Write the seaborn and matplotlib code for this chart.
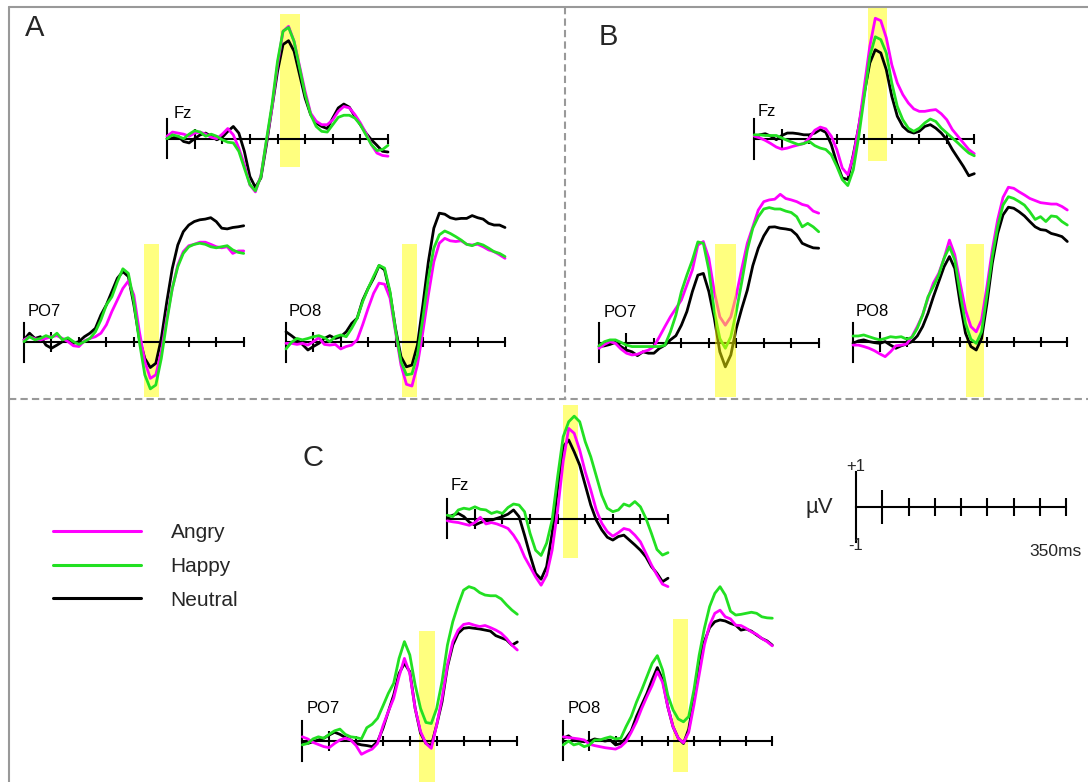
import numpy as np
import pandas as pd
import matplotlib
matplotlib.use("Agg")
import matplotlib.pyplot as plt
from matplotlib.lines import Line2D
import seaborn as sns

# ---------------- data (µV, sampled every 10 ms from -50 to 350 ms) ----------------
times = np.arange(-50, 351, 10)
conditions = ["Angry", "Happy", "Neutral"]

A_Fz_angry = [0.07, 0.19, 0.16, 0.13, 0.07, 0.16, 0.19, 0.13, 0.04, 0.00, 0.13, 0.29, 0.11, -0.27, -0.74,
              -1.32, -1.52, -1.05, -0.08, 0.88, 2.11, 3.07, 3.21, 2.78, 2.07, 1.35, 0.73, 0.50, 0.40, 0.40,
              0.54, 0.78, 0.92, 0.88, 0.69, 0.45, 0.16, -0.17, -0.41, -0.48, -0.50]
A_Fz_happy = [0.00, 0.11, 0.07, 0.00, 0.13, 0.23, 0.19, 0.07, 0.13, 0.07, -0.03, -0.10, -0.12, -0.36, -0.84,
              -1.31, -1.49, -1.08, -0.03, 0.97, 2.21, 3.07, 3.18, 2.78, 2.02, 1.26, 0.69, 0.35, 0.21, 0.19,
              0.40, 0.61, 0.67, 0.67, 0.59, 0.40, 0.11, -0.17, -0.34, -0.31, -0.19]
A_Fz_neutral = [0.00, 0.02, 0.07, -0.08, -0.12, 0.00, 0.11, 0.16, 0.07, -0.03, 0.04, 0.21, 0.35, 0.16, -0.36,
                -1.08, -1.39, -1.12, -0.17, 0.88, 1.92, 2.69, 2.80, 2.50, 1.83, 1.16, 0.69, 0.45, 0.35, 0.29,
                0.59, 0.88, 0.99, 0.90, 0.64, 0.40, 0.16, -0.03, -0.19, -0.36, -0.38]

A_PO7_angry = [0.07, 0.16, 0.10, 0.07, 0.11, 0.16, 0.19, 0.11, 0.02, -0.10, -0.12, 0.04, 0.11, 0.16, 0.26,
               0.50, 0.88, 1.21, 1.54, 1.75, 1.35, 0.31, -0.55, -1.03, -0.93, -0.27, 0.69, 1.54, 2.21, 2.59,
               2.76, 2.80, 2.86, 2.86, 2.80, 2.73, 2.70, 2.73, 2.54, 2.61, 2.61]
A_PO7_happy = [0.02, 0.16, 0.07, 0.11, 0.19, 0.13, 0.26, 0.07, 0.13, 0.02, -0.06, 0.02, 0.11, 0.30, 0.64,
               1.07, 1.30, 1.73, 2.10, 1.97, 1.16, 0.02, -0.93, -1.33, -1.22, -0.46, 0.59, 1.54, 2.16, 2.54,
               2.73, 2.80, 2.83, 2.80, 2.73, 2.70, 2.73, 2.76, 2.64, 2.57, 2.54]
A_PO7_neutral = [0.07, 0.26, 0.11, 0.16, -0.08, -0.17, -0.08, 0.02, 0.07, -0.03, 0.02, 0.16, 0.26, 0.40, 0.78,
                 1.07, 1.45, 1.83, 2.02, 1.88, 1.07, 0.11, -0.46, -0.72, -0.60, 0.11, 1.16, 2.11, 2.78, 3.16,
                 3.35, 3.45, 3.50, 3.52, 3.56, 3.45, 3.26, 3.24, 3.28, 3.30, 3.33]

A_PO8_angry = [-0.03, -0.03, -0.06, -0.03, -0.08, 0.02, 0.13, -0.06, -0.08, -0.06, -0.19, -0.12, -0.08, 0.07, 0.50,
               0.97, 1.40, 1.69, 1.66, 1.26, 0.30, -0.65, -1.20, -1.25, -0.65, 0.30, 1.35, 2.30, 2.83, 2.97,
               2.90, 2.88, 2.90, 2.80, 2.78, 2.80, 2.73, 2.64, 2.59, 2.50, 2.40]
A_PO8_happy = [-0.19, 0.00, 0.11, 0.07, 0.11, 0.16, 0.19, 0.13, 0.02, 0.16, 0.21, 0.16, 0.40, 0.69, 1.16,
               1.54, 1.88, 2.20, 2.12, 1.45, 0.35, -0.55, -0.93, -0.90, -0.36, 0.69, 1.83, 2.69, 3.07, 3.18,
               3.11, 3.02, 2.92, 2.80, 2.76, 2.83, 2.78, 2.69, 2.59, 2.54, 2.45]
A_PO8_neutral = [0.30, 0.19, 0.07, -0.06, -0.22, -0.12, -0.03, 0.11, 0.19, 0.11, 0.16, 0.30, 0.54, 0.69, 1.20,
                 1.54, 1.83, 2.19, 2.07, 1.40, 0.40, -0.41, -0.70, -0.65, -0.08, 1.07, 2.30, 3.26, 3.69, 3.66,
                 3.56, 3.52, 3.54, 3.54, 3.62, 3.56, 3.52, 3.40, 3.35, 3.35, 3.28]

B_Fz_angry = [0.08, 0.03, -0.04, -0.13, -0.23, -0.29, -0.26, -0.21, -0.17, -0.13, 0.03, 0.25, 0.34, 0.29, 0.08,
              -0.30, -0.83, -1.02, -0.50, 0.36, 1.50, 2.65, 3.45, 3.38, 2.89, 2.12, 1.60, 1.27, 1.03, 0.86,
              0.79, 0.79, 0.82, 0.84, 0.72, 0.55, 0.27, 0.08, -0.11, -0.30, -0.42]
B_Fz_happy = [0.12, 0.12, 0.10, 0.10, 0.10, 0.03, -0.04, -0.10, -0.16, -0.13, -0.07, -0.19, -0.26, -0.30, -0.45,
              -0.78, -1.16, -1.33, -0.88, 0.08, 1.22, 2.36, 2.92, 2.84, 2.46, 1.60, 0.93, 0.55, 0.31, 0.22,
              0.31, 0.46, 0.57, 0.50, 0.31, 0.17, 0.03, -0.11, -0.26, -0.40, -0.48]
B_Fz_neutral = [0.03, 0.12, 0.15, 0.08, -0.02, 0.10, 0.17, 0.17, 0.15, 0.12, 0.12, 0.17, 0.27, 0.19, -0.16,
                -0.69, -1.11, -1.16, -0.45, 0.36, 1.31, 2.17, 2.55, 2.46, 1.98, 1.22, 0.65, 0.36, 0.22, 0.17,
                0.22, 0.36, 0.41, 0.31, 0.17, -0.02, -0.30, -0.54, -0.78, -1.05, -0.99]

B_PO7_angry = [-0.16, -0.05, 0.03, -0.02, -0.18, -0.30, -0.35, -0.33, -0.26, -0.21, -0.11, 0.17, 0.46, 0.74, 0.98,
               1.22, 1.65, 2.08, 2.79, 2.89, 2.41, 1.45, 0.74, 0.50, 0.74, 1.36, 2.12, 2.84, 3.31, 3.79,
               4.03, 4.08, 4.10, 4.24, 4.12, 4.08, 4.03, 3.95, 3.91, 3.76, 3.70]
B_PO7_happy = [-0.09, 0.03, 0.08, 0.08, 0.01, -0.07, -0.11, -0.11, -0.11, -0.11, -0.11, -0.11, -0.07, 0.31, 0.79,
               1.46, 1.93, 2.36, 2.88, 2.84, 2.08, 0.89, 0.12, -0.16, 0.17, 0.89, 1.74, 2.65, 3.27, 3.60,
               3.82, 3.86, 3.82, 3.82, 3.76, 3.72, 3.60, 3.31, 3.41, 3.31, 3.17]
B_PO7_neutral = [-0.11, -0.09, -0.05, 0.01, -0.11, -0.21, -0.26, -0.37, -0.26, -0.30, -0.30, -0.16, -0.07, 0.08, 0.20,
                 0.50, 0.89, 1.46, 1.93, 1.98, 1.46, 0.70, -0.26, -0.69, -0.35, 0.41, 0.98, 1.50, 2.20, 2.70,
                 3.05, 3.30, 3.31, 3.27, 3.25, 3.22, 3.08, 2.84, 2.77, 2.71, 2.70]

B_PO8_angry = [-0.08, -0.08, -0.12, -0.17, -0.24, -0.33, -0.41, -0.27, -0.10, -0.08, -0.05, 0.16, 0.45, 0.78, 1.26,
               1.69, 1.97, 2.40, 2.92, 2.50, 1.69, 0.92, 0.45, 0.30, 0.64, 1.59, 2.64, 3.50, 4.14, 4.43,
               4.40, 4.30, 4.21, 4.11, 4.05, 3.99, 3.97, 3.95, 3.95, 3.88, 3.78]
B_PO8_happy = [0.18, 0.18, 0.21, 0.16, 0.11, 0.07, 0.11, 0.16, 0.14, 0.16, 0.09, 0.14, 0.40, 0.78, 1.30,
               1.59, 1.92, 2.40, 2.73, 2.35, 1.40, 0.54, 0.09, -0.03, 0.30, 1.35, 2.45, 3.30, 3.92, 4.16,
               4.11, 4.02, 3.92, 3.73, 3.51, 3.59, 3.45, 3.61, 3.59, 3.45, 3.35]
B_PO8_neutral = [-0.03, 0.04, 0.07, 0.02, -0.01, -0.03, 0.02, -0.08, -0.17, -0.10, -0.05, 0.02, 0.18, 0.45, 0.83,
                 1.30, 1.73, 2.16, 2.45, 2.11, 1.11, 0.26, -0.12, -0.22, 0.11, 1.11, 2.26, 3.11, 3.64, 3.86,
                 3.83, 3.73, 3.61, 3.45, 3.30, 3.22, 3.20, 3.11, 3.07, 3.02, 2.88]

C_Fz_angry = [-0.06, -0.09, -0.11, -0.15, -0.19, -0.11, 0.04, -0.15, -0.11, -0.15, -0.21, -0.28, -0.47, -0.72, -1.09,
              -1.37, -1.66, -1.90, -1.61, -0.90, 0.25, 1.63, 2.58, 2.44, 1.96, 1.34, 0.82, 0.25, -0.13, -0.37,
              -0.50, -0.40, -0.28, -0.32, -0.47, -0.66, -0.99, -1.32, -1.61, -1.87, -1.94]
C_Fz_happy = [0.10, 0.06, 0.25, 0.30, 0.27, 0.34, 0.27, 0.25, 0.15, 0.20, 0.15, 0.32, 0.42, 0.39, 0.20,
              -0.42, -0.90, -1.05, -0.70, -0.04, 1.20, 2.34, 2.77, 2.93, 2.77, 2.20, 1.77, 1.22, 0.67, 0.30,
              0.20, 0.25, 0.42, 0.36, 0.49, 0.34, 0.01, -0.42, -0.88, -1.04, -0.97]
C_Fz_neutral = [0.04, 0.10, 0.15, 0.06, -0.10, -0.18, -0.11, -0.06, -0.04, 0.01, 0.06, 0.13, 0.25, 0.06, -0.47,
                -1.04, -1.56, -1.73, -1.37, -0.42, 0.87, 2.06, 2.25, 1.91, 1.53, 0.96, 0.39, -0.04, -0.32, -0.53,
                -0.61, -0.51, -0.47, -0.61, -0.75, -0.90, -1.09, -1.37, -1.56, -1.80, -1.70]

C_PO7_angry = [0.12, 0.06, -0.04, -0.10, -0.16, -0.19, -0.07, 0.03, 0.08, 0.03, -0.13, -0.38, -0.30, -0.23, -0.07,
               0.43, 0.84, 1.22, 1.84, 2.36, 1.93, 0.93, 0.27, -0.07, -0.21, 0.46, 1.22, 2.17, 2.84, 3.17,
               3.33, 3.36, 3.31, 3.27, 3.30, 3.24, 3.17, 3.08, 2.93, 2.74, 2.60]
C_PO7_happy = [-0.11, -0.07, 0.06, 0.12, 0.08, 0.19, 0.29, 0.34, 0.19, 0.12, 0.10, 0.06, 0.38, 0.48, 0.65,
               1.00, 1.36, 1.65, 2.36, 2.84, 2.46, 1.60, 0.93, 0.53, 0.50, 0.93, 1.70, 2.74, 3.41, 3.89,
               4.31, 4.41, 4.36, 4.24, 4.17, 4.15, 4.15, 4.06, 3.89, 3.74, 3.62]
C_PO7_neutral = [-0.02, -0.07, -0.02, 0.03, 0.08, 0.17, 0.25, 0.19, 0.10, 0.03, -0.07, -0.11, -0.13, -0.16, -0.02,
                 0.36, 0.84, 1.31, 1.93, 2.22, 1.98, 0.93, 0.22, -0.07, -0.13, 0.46, 1.12, 2.12, 2.74, 3.08,
                 3.22, 3.24, 3.22, 3.20, 3.17, 3.14, 3.01, 2.95, 2.89, 2.74, 2.83]

C_PO8_angry = [0.11, 0.09, 0.07, 0.05, 0.02, -0.10, -0.14, -0.17, -0.20, -0.22, -0.24, -0.17, -0.03, 0.24, 0.54,
               0.92, 1.26, 1.58, 1.97, 1.67, 0.97, 0.40, 0.07, -0.06, 0.24, 1.02, 1.88, 2.73, 3.30, 3.64,
               3.73, 3.54, 3.48, 3.30, 3.29, 3.21, 3.11, 3.04, 2.92, 2.83, 2.71]
C_PO8_happy = [-0.12, -0.01, -0.12, -0.08, -0.17, -0.12, 0.02, 0.02, 0.07, 0.11, 0.05, 0.07, 0.40, 0.69, 1.10,
               1.45, 1.83, 2.21, 2.43, 2.02, 1.30, 0.88, 0.62, 0.54, 0.69, 1.45, 2.44, 3.21, 3.83, 4.21,
               4.40, 4.16, 3.70, 3.59, 3.61, 3.64, 3.67, 3.64, 3.54, 3.51, 3.50]
C_PO8_neutral = [0.07, 0.14, 0.02, -0.01, -0.03, -0.01, 0.05, 0.02, -0.01, 0.02, -0.12, -0.08, 0.07, 0.28, 0.69,
                 1.02, 1.35, 1.74, 2.09, 1.74, 0.97, 0.40, 0.07, -0.08, 0.33, 1.21, 2.30, 2.83, 3.23, 3.40,
                 3.45, 3.42, 3.35, 3.30, 3.16, 3.19, 3.13, 3.02, 2.92, 2.85, 2.73]

# analysis windows: [start ms, end ms, bottom µV, top µV]
band_A_Fz = [155, 190, -0.81, 3.56]
band_A_PO7 = [169, 196, -1.55, 2.80]
band_A_PO8 = [162, 189, -1.55, 2.80]
band_B_Fz = [157, 191, -0.64, 3.74]
band_B_PO7 = [161, 199, -1.54, 2.81]
band_B_PO8 = [160, 195, -1.55, 2.81]
band_C_Fz = [159, 186, -1.13, 3.25]
band_C_PO7 = [168, 196, -1.16, 3.14]
band_C_PO8 = [160, 189, -0.89, 3.48]

waves = {
    ("A", "Fz"): [A_Fz_angry, A_Fz_happy, A_Fz_neutral],
    ("A", "PO7"): [A_PO7_angry, A_PO7_happy, A_PO7_neutral],
    ("A", "PO8"): [A_PO8_angry, A_PO8_happy, A_PO8_neutral],
    ("B", "Fz"): [B_Fz_angry, B_Fz_happy, B_Fz_neutral],
    ("B", "PO7"): [B_PO7_angry, B_PO7_happy, B_PO7_neutral],
    ("B", "PO8"): [B_PO8_angry, B_PO8_happy, B_PO8_neutral],
    ("C", "Fz"): [C_Fz_angry, C_Fz_happy, C_Fz_neutral],
    ("C", "PO7"): [C_PO7_angry, C_PO7_happy, C_PO7_neutral],
    ("C", "PO8"): [C_PO8_angry, C_PO8_happy, C_PO8_neutral],
}
bands = {
    ("A", "Fz"): band_A_Fz, ("A", "PO7"): band_A_PO7, ("A", "PO8"): band_A_PO8,
    ("B", "Fz"): band_B_Fz, ("B", "PO7"): band_B_PO7, ("B", "PO8"): band_B_PO8,
    ("C", "Fz"): band_C_Fz, ("C", "PO7"): band_C_PO7, ("C", "PO8"): band_C_PO8,
}

# ---------------- style & layout ----------------
W, H = 1088, 782
colors = {"Angry": "#ff00ff", "Happy": "#22e022", "Neutral": "#000000"}
draw_order = ["Neutral", "Angry", "Happy"]
PX_PER_UV = 35.0
# bar x (-50 ms), end x (350 ms), baseline y, label dx, label dy, band on top?  (pixels)
layout = {
    ("A", "Fz"): (167, 388, 138.7, 7, 21, False),
    ("A", "PO7"): (24, 243.7, 342.3, 4, 26, False),
    ("A", "PO8"): (286, 505, 342.3, 3, 26, False),
    ("B", "Fz"): (754.3, 974.3, 139, 3, 23, False),
    ("B", "PO7"): (599, 818.7, 342.7, 5, 26, True),
    ("B", "PO8"): (853, 1067.3, 342.3, 3, 26, False),
    ("C", "Fz"): (447.3, 668, 518.7, 3, 29, False),
    ("C", "PO7"): (302.3, 517.3, 741, 4, 28, False),
    ("C", "PO8"): (563.3, 772.3, 740.7, 4, 28, False),
}

sns.set_theme(style="white")
plt.rcParams["font.family"] = ["Liberation Sans", "DejaVu Sans"]

fig = plt.figure(figsize=(W / 100, H / 100), dpi=100)
fig.patch.set_facecolor("white")

XLIM = (-60, 360)
YLIM = (-2.4, 4.8)


def place_axes(bar_x, end_x, base_y, xlim, ylim):
    pxms = (end_x - bar_x) / 400.0
    left = bar_x + (xlim[0] + 50) * pxms
    right = bar_x + (xlim[1] + 50) * pxms
    top = base_y - ylim[1] * PX_PER_UV
    bot = base_y - ylim[0] * PX_PER_UV
    ax = fig.add_axes([left / W, 1 - bot / H, (right - left) / W, (bot - top) / H])
    ax.patch.set_alpha(0)
    return ax, pxms


def style_axes(ax, xlim, ylim, vbar, major_len, minor_len, lw):
    ax.set_xlim(*xlim)
    ax.set_ylim(*ylim)
    for s in ["top", "right"]:
        ax.spines[s].set_visible(False)
    ax.spines["left"].set_position(("data", -50))
    ax.spines["left"].set_bounds(-vbar, vbar)
    ax.spines["bottom"].set_position(("data", 0))
    ax.spines["bottom"].set_bounds(-50, 350)
    for s in ["left", "bottom"]:
        ax.spines[s].set_color("black")
        ax.spines[s].set_linewidth(lw)
        ax.spines[s].set_zorder(2.5)
    ax.set_xticks([0])
    ax.set_xticks(np.arange(50, 351, 50), minor=True)
    ax.set_yticks([])
    ax.tick_params(axis="x", which="major", bottom=True, top=False, direction="inout",
                   length=major_len, width=lw, color="black", labelbottom=False)
    ax.tick_params(axis="x", which="minor", bottom=True, top=False, direction="inout",
                   length=minor_len, width=lw, color="black", labelbottom=False)
    ax.set_xlabel("")
    ax.set_ylabel("")
    ax.grid(False)


for key, series in waves.items():
    bar_x, end_x, base_y, ldx, ldy, band_top = layout[key]
    ax, pxms = place_axes(bar_x, end_x, base_y, XLIM, YLIM)
    df = pd.DataFrame({
        "time": np.tile(times, 3),
        "uV": np.concatenate(series),
        "condition": np.repeat(conditions, len(times)),
    })
    sns.lineplot(data=df, x="time", y="uV", hue="condition", hue_order=draw_order,
                 palette=colors, estimator=None, sort=False, linewidth=2.0,
                 legend=False, ax=ax, zorder=3, clip_on=False)
    for ln in ax.get_lines():
        ln.set_solid_joinstyle("round")
    b0, b1, bb, bt = bands[key]
    ax.fill_between([b0, b1], [bb, bb], [bt, bt], color="#ffff00", alpha=0.5,
                    linewidth=0, zorder=4 if band_top else 1)
    style_axes(ax, XLIM, YLIM, 0.56, 14.4, 7.2, 1.5)
    ax.text(-50 + ldx / pxms, ldy / PX_PER_UV, key[1], fontsize=12, ha="left",
            va="baseline", color="black")

# ---------------- scale bar ----------------
sax, spxms = place_axes(856, 1066, 507, (-60, 360), (-2.0, 2.0))
style_axes(sax, (-60, 360), (-2.0, 2.0), 1.0, 24.5, 13, 1.5)
sax.text(-50 - 23 / spxms, 0, "µV", fontsize=16, ha="right", va="center")
sax.text(-50, 1.16, "+1", fontsize=12, ha="center", va="center")
sax.text(-51, -1.1, "-1", fontsize=12, ha="center", va="center")
sax.text(330, -1.27, "350ms", fontsize=12.5, ha="center", va="center")

# ---------------- legend ----------------
handles = [Line2D([], [], color=colors[c], lw=2.2) for c in conditions]
fig.legend(handles, conditions, loc="center left",
           bbox_to_anchor=(53 / W, 1 - 566.5 / H), frameon=False, fontsize=15,
           handlelength=4.2, handletextpad=1.45, labelspacing=0.7,
           borderpad=0, borderaxespad=0)

# ---------------- panel letters ----------------
for letter, (px, py) in {"A": (34.5, 27.5), "B": (608, 37), "C": (313, 458)}.items():
    fig.text(px / W, 1 - py / H, letter, fontsize=21, ha="center", va="center")

# ---------------- frame & dividers ----------------
gray = "#999999"
fig.add_artist(Line2D([9 / W, 1.0], [1 - 7 / H, 1 - 7 / H], transform=fig.transFigure,
                      color=gray, lw=1.5))
fig.add_artist(Line2D([9 / W, 9 / W], [1 - 7 / H, 0.0], transform=fig.transFigure,
                      color=gray, lw=1.5))
fig.add_artist(Line2D([565 / W, 565 / W], [1 - 7 / H, 1 - 399 / H], transform=fig.transFigure,
                      color=gray, lw=1.5, linestyle=(0, (3.5, 2))))
fig.add_artist(Line2D([9 / W, 1.0], [1 - 399 / H, 1 - 399 / H], transform=fig.transFigure,
                      color=gray, lw=1.5, linestyle=(0, (3.5, 2))))

fig.savefig("out.png", dpi=100)
